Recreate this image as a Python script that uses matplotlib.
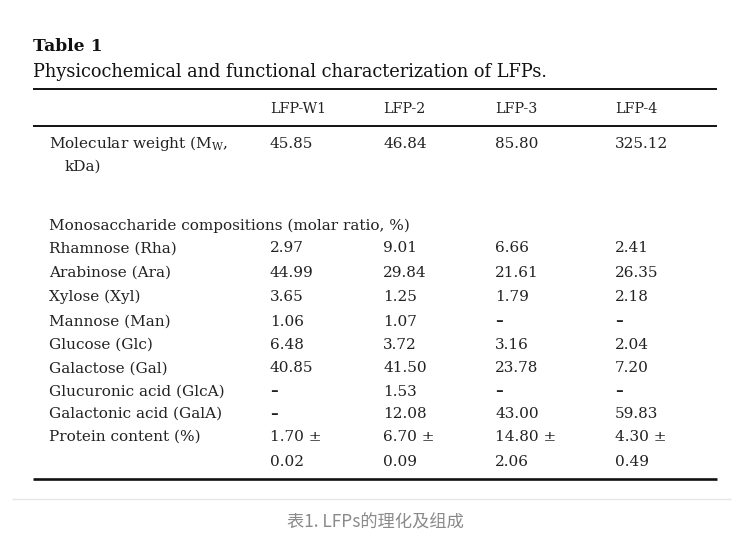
import matplotlib
matplotlib.use("Agg")
import matplotlib.pyplot as plt

title = "Table 1"
subtitle = "Physicochemical and functional characterization of LFPs."
columns = ["LFP-W1", "LFP-2", "LFP-3", "LFP-4"]
mw_values = ["45.85", "46.84", "85.80", "325.12"]
section_label = "Monosaccharide compositions (molar ratio, %)"
sugar_labels = ["Rhamnose (Rha)", "Arabinose (Ara)", "Xylose (Xyl)", "Mannose (Man)",
                "Glucose (Glc)", "Galactose (Gal)", "Glucuronic acid (GlcA)",
                "Galactonic acid (GalA)"]
sugar_values = [
    ["2.97", "9.01", "6.66", "2.41"],
    ["44.99", "29.84", "21.61", "26.35"],
    ["3.65", "1.25", "1.79", "2.18"],
    ["1.06", "1.07", "–", "–"],
    ["6.48", "3.72", "3.16", "2.04"],
    ["40.85", "41.50", "23.78", "7.20"],
    ["–", "1.53", "–", "–"],
    ["–", "12.08", "43.00", "59.83"],
]
protein_label = "Protein content (%)"
protein_mean = ["1.70", "6.70", "14.80", "4.30"]
protein_sd = ["0.02", "0.09", "2.06", "0.49"]
caption = "表1. LFPs的理化及组成"

W, H = 744, 537
fig = plt.figure(figsize=(W / 100, H / 100), dpi=100)
ax = fig.add_axes([0, 0, 1, 1])
ax.set_xlim(0, W)
ax.set_ylim(H, 0)
ax.axis("off")

serif = "DejaVu Serif"
tc = "#222222"
fs = 11
hfs = 10.3

col_x = [270, 383, 495, 615]
label_x = 49

ax.text(33, 46.5, title, fontsize=12.3, fontweight="bold", family=serif, color="#111111", va="center")
ax.text(33, 72, subtitle, fontsize=12.8, family=serif, color="#111111", va="center")

ax.plot([33, 717], [88.5, 88.5], color="#111111", lw=1.4, solid_capstyle="butt")
for x, c in zip(col_x, columns):
    ax.text(x, 109, c, fontsize=hfs, family=serif, color=tc, va="center")
ax.plot([33, 717], [126, 126], color="#111111", lw=1.4, solid_capstyle="butt")

plt.rcParams["mathtext.fontset"] = "dejavuserif"
ax.text(label_x, 143.5, r"Molecular weight (M$_\mathregular{W}$,", fontsize=fs, family=serif, color=tc, va="center")
ax.text(65, 166.5, "kDa)", fontsize=fs, family=serif, color=tc, va="center")
for x, v in zip(col_x, mw_values):
    ax.text(x, 143.5, v, fontsize=fs, family=serif, color=tc, va="center")

ax.text(label_x, 225.5, section_label, fontsize=fs, family=serif, color=tc, va="center")
row_y = [248.5, 273, 297, 321.5, 345, 368.5, 391.5, 414]
for y, lab, vals in zip(row_y, sugar_labels, sugar_values):
    ax.text(label_x, y, lab, fontsize=fs, family=serif, color=tc, va="center")
    for x, v in zip(col_x, vals):
        if v == "–":
            ax.text(x, y, v, fontsize=fs, family=serif, color=tc, va="center", fontweight="bold")
        else:
            ax.text(x, y, v, fontsize=fs, family=serif, color=tc, va="center")

ax.text(label_x, 437, protein_label, fontsize=fs, family=serif, color=tc, va="center")
for x, m, s in zip(col_x, protein_mean, protein_sd):
    ax.text(x, 437, m + " ±", fontsize=fs, family=serif, color=tc, va="center")
    ax.text(x, 461.5, s, fontsize=fs, family=serif, color=tc, va="center")

ax.plot([33, 717], [479, 479], color="#111111", lw=1.9, solid_capstyle="butt")
ax.plot([12, 731], [499, 499], color="#e6e6e6", lw=1.0, solid_capstyle="butt")

ax.text(375, 523, caption, fontsize=12.4, family=["Noto Sans CJK SC", "DejaVu Sans"],
        color="#8a8a8a", ha="center", va="center")

fig.savefig("out.png", dpi=100, facecolor="white")
